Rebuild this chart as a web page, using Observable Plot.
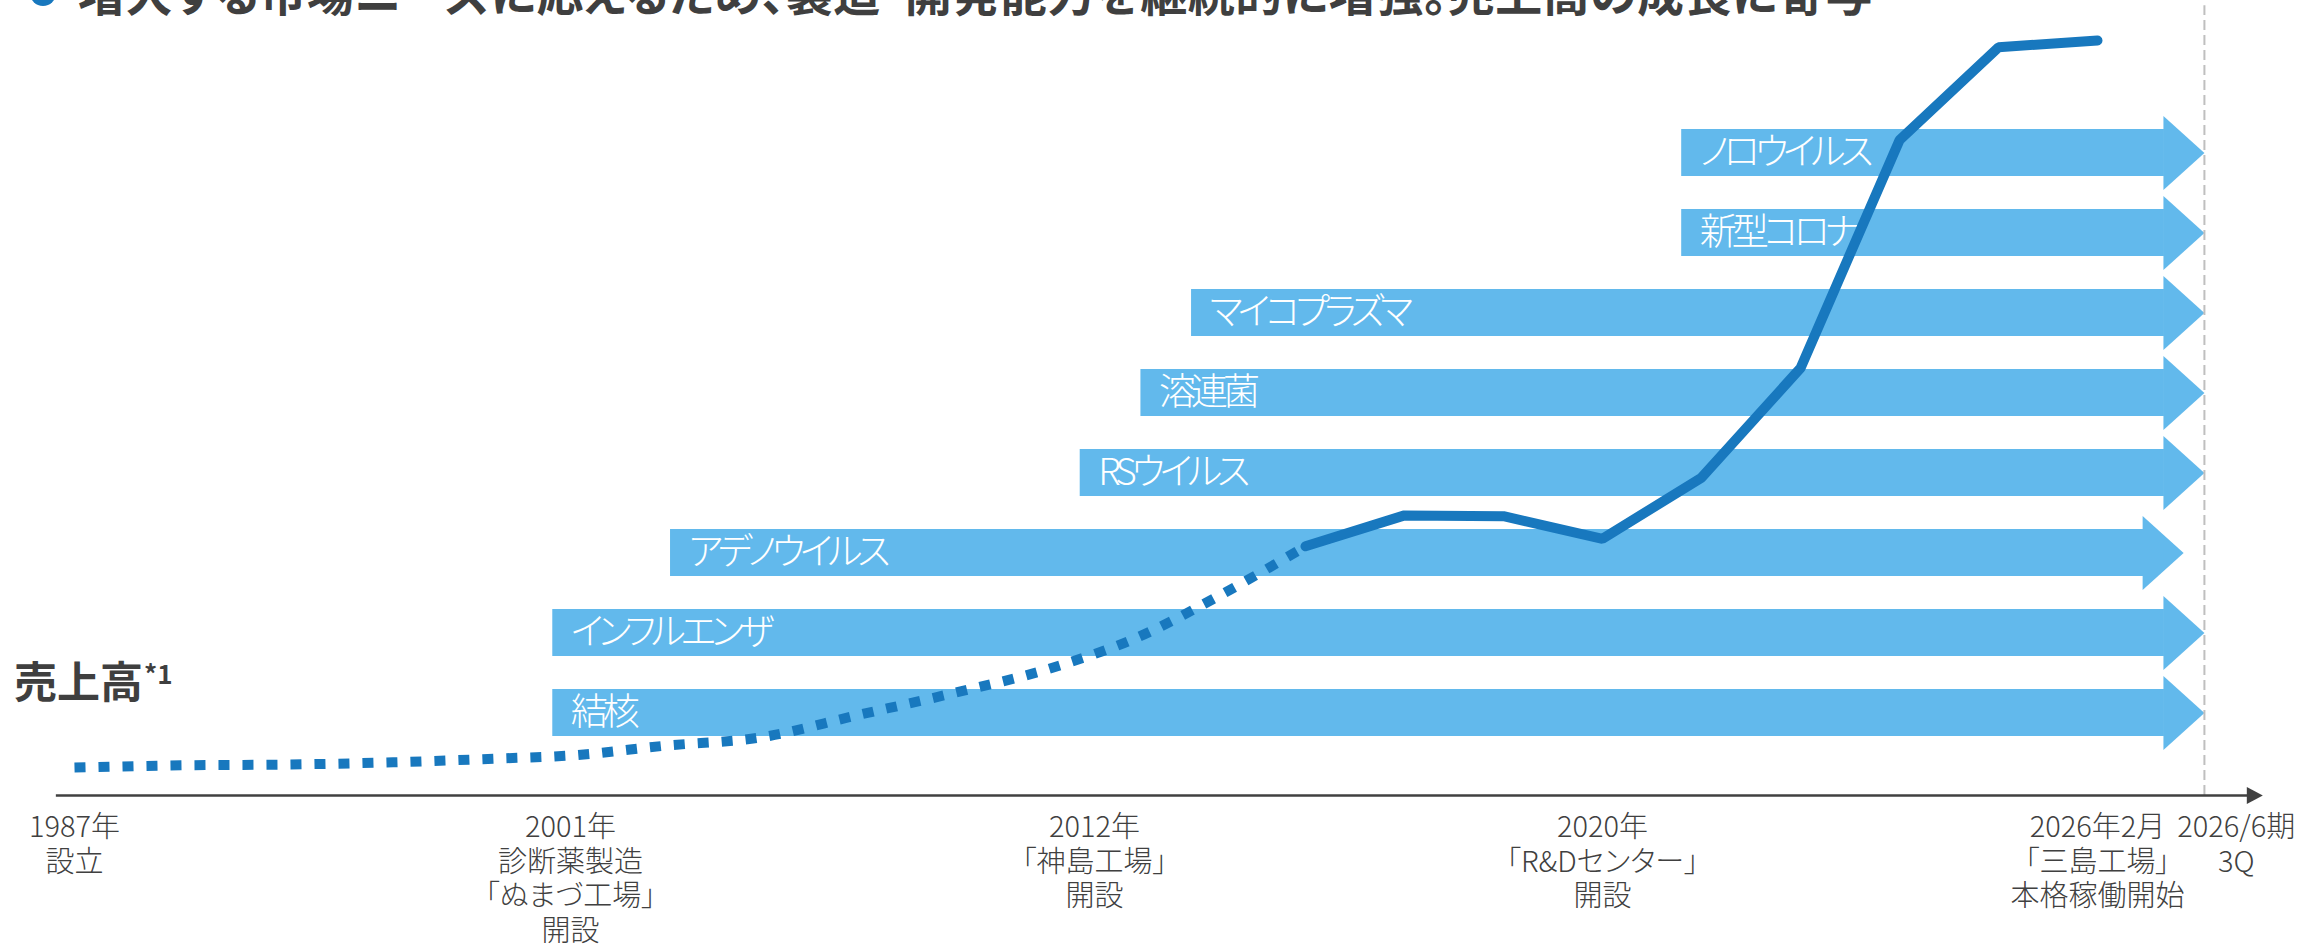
<!DOCTYPE html>
<html>
<head>
<meta charset="utf-8">
<script src="https://cdn.jsdelivr.net/npm/d3@7"></script>
<script src="https://cdn.jsdelivr.net/npm/@observablehq/plot@0.6"></script>
<style>
  html, body { margin: 0; padding: 0; background: #fff; overflow: hidden; }
  #wrap { position: relative; width: 2318px; height: 944px; overflow: hidden;
          font-family: "Noto Sans CJK JP", "Noto Sans", sans-serif; color: #404040; }
  #title { position: absolute; left: 78px; top: -33px; font-size: 47px; line-height: 47px;
           font-weight: 700; white-space: nowrap; font-feature-settings: "palt"; letter-spacing: 0.5px; color: #3f3f3f; }
  #bullet { position: absolute; left: 30px; top: -20px; width: 26px; height: 26px; border-radius: 50%; background: #1878be; }
  #ylabel { position: absolute; left: 14px; top: 651px; font-size: 43px; line-height: 43px; font-weight: 700; color: #3f3f3f; white-space: nowrap; }
  #ylabel span { font-size: 26px; vertical-align: 14px; margin-left: 1px; }
  .layer { position: absolute; left: 0; top: 0; }
  svg text { font-feature-settings: "palt"; }
  #bars text { letter-spacing: -5px; }
</style>
</head>
<body>
<div id="wrap">
  <div id="bullet"></div>
  <div id="title">増大する市場ニーズに応えるため、製造・開発能力を継続的に増強。売上高の成長に寄与</div>
  <div id="bars" class="layer"></div>
  <div id="lines" class="layer"></div>
  <div id="ylabel">売上高<span>*1</span></div>
</div>
<script>
// ---------- data ----------
const diseases    = ["ノロウイルス", "新型コロナ", "マイコプラズマ", "溶連菌", "RSウイルス", "アデノウイルス", "インフルエンザ", "結核"];
const diseaseFrom = [2020.8, 2020.8, 2014.3, 2013.1, 2011.7, 2003.1, 2000.5, 2000.5];
const diseaseTo   = [2026.08, 2026.08, 2026.08, 2026.08, 2026.08, 2025.87, 2026.08, 2026.08];

// early trend (illustrative, dotted)
const trendYears  = [1987, 1990, 1993, 1996, 1999, 2001, 2003, 2005, 2007, 2009, 2011, 2013, 2015, 2017];
const trendValues = [3.7, 4.0, 4.1, 4.4, 4.9, 5.3, 6.6, 7.7, 10.6, 13.5, 16.7, 20.9, 26.6, 33.0];

// annual sales index (solid)
const salesYears  = [2017, 2018, 2019, 2020, 2021, 2022, 2023, 2024, 2025];
const salesValues = [33.0, 37.1, 37.0, 34.0, 42.1, 56.6, 86.8, 99.1, 100];

// timeline milestones
const milestoneYears  = [1987, 2001, 2012, 2020];
const milestoneLabels = ["1987年\n設立", "2001年\n診断薬製造\n「ぬまづ工場」\n開設", "2012年\n「神島工場」\n開設", "2020年\n「R&Dセンター」\n開設"];
const mishimaYear  = 2026.08;
const mishimaLabel = "2026年2月\n「三島工場」\n本格稼働開始";
const latestPeriod = 2026.33;
const latestLabel  = "2026/6期\n3Q";
const axisStart = 1986.77, axisEnd = 2026.67;

// ---------- tables ----------
const arrows = diseases.map((name, i) => ({name, start: diseaseFrom[i], end: diseaseTo[i]}));
const trend = trendYears.map((year, i) => ({year, value: trendValues[i]}));
const sales = salesYears.map((year, i) => ({year, value: salesValues[i]}));

// ---------- shared styles ----------
const barColor = "#62b9ec";
const lineColor = "#1878be";
const textColor = "#404040";
const W = 2318, H = 944;
const xScale = {type: "linear", domain: [1987, 2001, 2012, 2017, 2025], range: [74, 570, 1094, 1305, 2097]};
const baseStyle = {background: "transparent", fontFamily: '"Noto Sans CJK JP", "Noto Sans", sans-serif', overflow: "visible"};

const arrowHead = {draw(ctx) { ctx.moveTo(0, 0); ctx.lineTo(-41, -37); ctx.lineTo(-41, 37); ctx.closePath(); }};
const axisHead  = {draw(ctx) { ctx.moveTo(0, 0); ctx.lineTo(-16, -8.5); ctx.lineTo(-16, 8.5); ctx.closePath(); }};

// ---------- layer 1: product arrows ----------
const barsPlot = Plot.plot({
  width: W, height: H,
  margin: 0,
  style: baseStyle,
  x: {...xScale, axis: null},
  y: {type: "band", domain: diseases, range: [128.5, 735.5], paddingInner: 0.4125, paddingOuter: 0, axis: null},
  marks: [
    Plot.barX(arrows, {x1: "start", x2: "end", y: "name", fill: barColor, insetRight: 40}),
    Plot.dot(arrows, {x: "end", y: "name", symbol: arrowHead, fill: barColor, stroke: null, r: 5}),
    Plot.text(arrows, {x: "start", y: "name", text: "name", dx: 18, textAnchor: "start", fill: "white",
                       fontSize: 37, fontWeight: 300})
  ]
});
document.getElementById("bars").appendChild(barsPlot);

// ---------- layer 2: sales line + timeline ----------
const labelMap = new Map(milestoneYears.map((y, i) => [y, milestoneLabels[i]]));
const tickText = {tickSize: 0, tickPadding: 17, fontSize: 29, fontWeight: 300, lineHeight: 1.19, fill: textColor};
const linePlot = Plot.plot({
  width: W, height: H,
  marginTop: 0, marginLeft: 0, marginRight: 0, marginBottom: H - 795,
  style: baseStyle,
  x: {...xScale, axis: null},
  y: {domain: [0, 100], range: [795, 40], axis: null},
  marks: [
    Plot.ruleX([mishimaYear], {y1: 0, y2: 104.6, stroke: "#bfbfbf", strokeWidth: 2, strokeDasharray: "10,5"}),
    Plot.ruleY([0], {x1: axisStart, x2: axisEnd, dx: -10, stroke: textColor, strokeWidth: 2.5}),
    Plot.dot([{x: axisEnd, y: 0}], {x: "x", y: "y", symbol: axisHead, fill: textColor, stroke: null, r: 5}),
    Plot.line(trend, {x: "year", y: "value", curve: "monotone-x", stroke: lineColor, strokeWidth: 10,
                      strokeDasharray: "11,13", strokeLinecap: "butt"}),
    Plot.line(sales, {x: "year", y: "value", stroke: lineColor, strokeWidth: 10,
                      strokeLinecap: "round", strokeLinejoin: "miter"}),
    Plot.axisX({ticks: milestoneYears, tickFormat: d => labelMap.get(d), ...tickText}),
    Plot.axisX({ticks: [mishimaYear], tickFormat: () => mishimaLabel, dx: -107, ...tickText}),
    Plot.axisX({ticks: [latestPeriod], tickFormat: () => latestLabel, dx: 7, ...tickText})
  ]
});
document.getElementById("lines").appendChild(linePlot);
</script>
</body>
</html>
